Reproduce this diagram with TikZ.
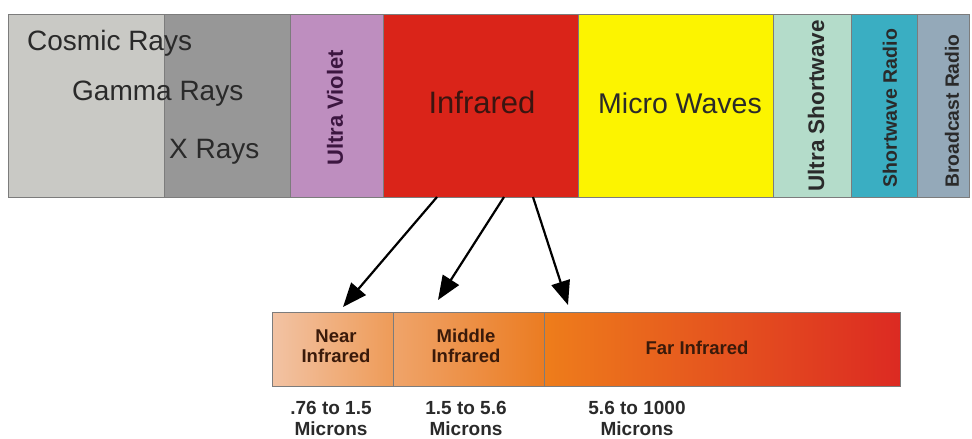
\documentclass[tikz,border=0pt]{standalone}
\usepackage{fontspec}
\setmainfont{Liberation Sans}
\usetikzlibrary{arrows.meta}
\definecolor{cosmic}{HTML}{C9C9C5}
\definecolor{gammagray}{HTML}{979797}
\definecolor{uvcol}{HTML}{BE8EBF}
\definecolor{ired}{HTML}{DA2419}
\definecolor{mwyellow}{HTML}{FCF400}
\definecolor{uswcol}{HTML}{B4DCCA}
\definecolor{swrcol}{HTML}{3AAEC2}
\definecolor{bcrcol}{HTML}{94A9B9}
\definecolor{edgecol}{HTML}{7C7C7C}
\definecolor{txtgray}{HTML}{2A2A2A}
\definecolor{uvtxt}{HTML}{3C1640}
\definecolor{irtxt}{HTML}{3B1510}
\definecolor{brtxt}{HTML}{3A1A0A}
\definecolor{nearL}{HTML}{F2C3A4}
\definecolor{nearR}{HTML}{EE9B58}
\definecolor{midL}{HTML}{EFA46A}
\definecolor{midR}{HTML}{EB7C22}
\definecolor{farL}{HTML}{EE7D1B}
\definecolor{farM}{HTML}{E95C1E}
\definecolor{farR}{HTML}{DC2A22}
\tikzset{
  band/.style={draw=edgecol, line width=0.8pt, minimum height=183pt, inner sep=0pt, outer sep=0pt, anchor=north west},
  seg/.style={draw=edgecol, line width=0.7pt, minimum height=74pt, inner sep=0pt, outer sep=0pt, anchor=north west},
  bigtxt/.style={font=\fontsize{28}{30}\selectfont, text=txtgray, inner sep=0pt, anchor=base west},
  vtxt/.style={rotate=90, inner sep=0pt, anchor=center},
  subtxt/.style={font=\fontsize{18.5}{20}\selectfont\bfseries, text=brtxt, inner sep=0pt, anchor=base},
  rangetxt/.style={font=\fontsize{19}{21}\selectfont\bfseries, text=txtgray, inner sep=0pt, anchor=base},
  arr/.style={line width=2.2pt, -{Triangle[length=24pt,width=19pt]}}
}
\begin{document}
\begin{tikzpicture}[x=1pt,y=-1pt]
\useasboundingbox (0,0) rectangle (972,439);
% spectrum bands
\node[band, fill=cosmic, minimum width=156pt] (cr) at (8,14) {};
\node[band, fill=gammagray, minimum width=126pt] (gx) at (164,14) {};
\node[band, fill=uvcol, minimum width=93pt] (uv) at (290,14) {};
\node[band, fill=ired, minimum width=195pt] (ir) at (383,14) {};
\node[band, fill=mwyellow, minimum width=195pt] (mw) at (578,14) {};
\node[band, fill=uswcol, minimum width=78pt] (usw) at (773,14) {};
\node[band, fill=swrcol, minimum width=66pt] (swr) at (851,14) {};
\node[band, fill=bcrcol, minimum width=52pt] (bcr) at (917,14) {};
% band labels
\node[bigtxt] (tcr) at (27,50) {Cosmic Rays};
\node[bigtxt] (tgr) at (72,100) {Gamma Rays};
\node[bigtxt] (txr) at (169,158) {X Rays};
\node[font=\fontsize{31}{33}\selectfont, text=irtxt, inner sep=0pt, anchor=base] (tir) at (482,113) {Infrared};
\node[font=\fontsize{28.5}{30}\selectfont, text=txtgray, inner sep=0pt, anchor=base] (tmw) at (680,113) {Micro Waves};
\node[vtxt, font=\fontsize{22}{24}\selectfont\bfseries, text=uvtxt] (tuv) at (335,108) {Ultra Violet};
\node[vtxt, font=\fontsize{22.5}{24}\selectfont\bfseries, text=txtgray] (tusw) at (816,106) {Ultra Shortwave};
\node[vtxt, font=\fontsize{19.5}{21}\selectfont\bfseries, text=txtgray] (tswr) at (890,108) {Shortwave Radio};
\node[vtxt, font=\fontsize{19.3}{21}\selectfont\bfseries, text=txtgray] (tbcr) at (952,111) {Broadcast Radio};
% infrared sub-bands
\node[seg, left color=nearL, right color=nearR, minimum width=121pt] (near) at (272,312) {};
\node[seg, left color=midL, right color=midR, minimum width=151pt] (mid) at (393,312) {};
\node[seg, left color=farL, middle color=farM, right color=farR, minimum width=356pt] (far) at (544,312) {};
\node[subtxt] (tn1) at (336,342) {Near};
\node[subtxt] (tn2) at (336,362) {Infrared};
\node[subtxt] (tm1) at (466,342) {Middle};
\node[subtxt] (tm2) at (466,362) {Infrared};
\node[subtxt] (tf) at (697,354) {Far Infrared};
% ranges
\node[rangetxt] (r1a) at (331,414) {.76 to 1.5};
\node[rangetxt] (r1b) at (331,435) {Microns};
\node[rangetxt] (r2a) at (466,414) {1.5 to 5.6};
\node[rangetxt] (r2b) at (466,435) {Microns};
\node[rangetxt] (r3a) at (637,414) {5.6 to 1000};
\node[rangetxt] (r3b) at (637,435) {Microns};
% arrows
\coordinate (s1) at (437,197);
\coordinate (s2) at (504,197);
\coordinate (s3) at (533,197);
\coordinate (e1) at (343,307);
\coordinate (e2) at (438,300);
\coordinate (e3) at (568,305);
\draw[arr] (s1) -- (e1);
\draw[arr] (s2) -- (e2);
\draw[arr] (s3) -- (e3);
\end{tikzpicture}
\end{document}
